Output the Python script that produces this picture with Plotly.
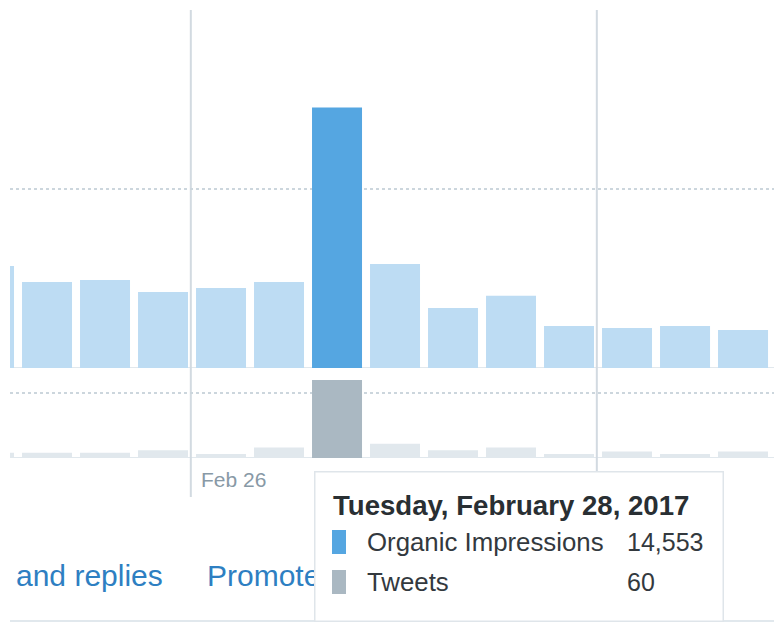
import plotly.graph_objects as go

# ---- data ----
dates = ["2017-02-22", "2017-02-23", "2017-02-24", "2017-02-25", "2017-02-26",
         "2017-02-27", "2017-02-28", "2017-03-01", "2017-03-02", "2017-03-03",
         "2017-03-04", "2017-03-05", "2017-03-06", "2017-03-07"]
impressions = [5700, 4810, 4920, 4250, 4470, 4810, 14553, 5810, 3350, 4030,
               2350, 2240, 2350, 2120]
tweets = [4, 4, 4, 6, 3, 8, 60, 11, 6, 8, 3, 5, 3, 5]
highlight_date = "2017-02-28"
week_lines = ["2017-02-25 11:30", "2017-03-04 11:30"]
axis_label = "Feb 26"
tip_title = "Tuesday, February 28, 2017"
tip_rows = ["Organic Impressions", "Tweets"]
tip_values = ["14,553", "60"]
nav_links = ["and replies", "Promoted"]

W, H = 774, 624
FONT = "Liberation Sans, Arial, Helvetica, sans-serif"


def px(x):
    return x / W


def py(y):
    return 1 - y / H


LIGHT_BLUE = "#bddcf3"
BLUE = "#55a6e1"
LIGHT_GRAY = "#e1e8ed"
GRAY = "#aab8c2"
LINE = "#d2dae1"

bar_w = 50 / 58 * 86400000

imp_colors = [BLUE if d == highlight_date else LIGHT_BLUE for d in dates]
tw_colors = [GRAY if d == highlight_date else LIGHT_GRAY for d in dates]

fig = go.Figure()
fig.add_trace(go.Bar(x=dates, y=impressions, width=bar_w, xaxis="x", yaxis="y",
                     marker=dict(color=imp_colors, line=dict(width=0))))
fig.add_trace(go.Bar(x=dates, y=tweets, width=bar_w, xaxis="x", yaxis="y2",
                     marker=dict(color=tw_colors, line=dict(width=0))))

shapes = []
# baselines
for yr in ["y", "y2"]:
    shapes.append(dict(type="line", xref="paper", yref=yr, x0=px(10), x1=1, y0=0, y1=0,
                       line=dict(color=LIGHT_GRAY, width=2), layer="below"))
# weekly lines
for wl in week_lines:
    shapes.append(dict(type="line", xref="x", yref="paper", x0=wl, x1=wl,
                       y0=py(497), y1=py(10), line=dict(color=LINE, width=2), layer="below"))
# page bottom line
shapes.append(dict(type="line", xref="paper", yref="paper", x0=px(10), x1=1,
                   y0=py(621), y1=py(621), line=dict(color=LIGHT_GRAY, width=2)))

annotations = []
annotations.append(dict(text=axis_label, xref="paper", yref="paper", x=px(200), y=py(479.5),
                        xanchor="left", yanchor="middle", showarrow=False, borderpad=0,
                        font=dict(family=FONT, size=21, color="#8899a6")))
annotations.append(dict(text=nav_links[0], xref="paper", yref="paper", x=px(15), y=py(575),
                        xanchor="left", yanchor="middle", showarrow=False, borderpad=0,
                        font=dict(family=FONT, size=30, color="#2e7fc2")))
annotations.append(dict(text=nav_links[1], xref="paper", yref="paper", x=px(206), y=py(575),
                        xanchor="left", yanchor="middle", showarrow=False, borderpad=0,
                        font=dict(family=FONT, size=30, color="#2e7fc2")))
# tooltip box
annotations.append(dict(text=" ", xref="paper", yref="paper", x=px(314), y=py(471),
                        xanchor="left", yanchor="top", showarrow=False, borderpad=0,
                        width=407, height=148, bgcolor="white", bordercolor="#dfe5ea",
                        borderwidth=1.5))
annotations.append(dict(text="<b>" + tip_title + "</b>", xref="paper", yref="paper",
                        x=px(332), y=py(505.5), xanchor="left", yanchor="middle",
                        showarrow=False, borderpad=0,
                        font=dict(family=FONT, size=27.6, color="#292f33")))
row_y = [542, 582]
row_colors = [BLUE, GRAY]
for name, val, ry, col in zip(tip_rows, tip_values, row_y, row_colors):
    annotations.append(dict(text=" ", xref="paper", yref="paper", x=px(332), y=py(ry),
                            xanchor="left", yanchor="middle", showarrow=False, borderpad=0,
                            width=14, height=24, bgcolor=col, borderwidth=0))
    annotations.append(dict(text=name, xref="paper", yref="paper", x=px(366), y=py(ry),
                            xanchor="left", yanchor="middle", showarrow=False, borderpad=0,
                            font=dict(family=FONT, size=25.8, color="#33393e")))
    annotations.append(dict(text=val, xref="paper", yref="paper", x=px(626), y=py(ry),
                            xanchor="left", yanchor="middle", showarrow=False, borderpad=0,
                            font=dict(family=FONT, size=25, color="#33393e")))

fig.update_layout(
    width=W, height=H,
    margin=dict(l=0, r=0, t=0, b=0),
    paper_bgcolor="white", plot_bgcolor="white",
    showlegend=False, hovermode=False,
    xaxis=dict(type="date", range=["2017-02-22 08:41", "2017-03-07 12:49"],
               domain=[px(10), 1], anchor="y2", showgrid=False, showticklabels=False,
               zeroline=False, showline=False, ticks=""),
    yaxis=dict(domain=[py(368), py(10)], range=[0, 20000], anchor="x",
               tickvals=[10000], showticklabels=False, showgrid=True,
               gridcolor="#ccd6dd", griddash="dot", gridwidth=1.5,
               zeroline=False, showline=False, ticks=""),
    yaxis2=dict(domain=[py(458), py(380)], range=[0, 60], anchor="x",
                tickvals=[50], showticklabels=False, showgrid=True,
                gridcolor="#ccd6dd", griddash="dot", gridwidth=1.5,
                zeroline=False, showline=False, ticks=""),
    shapes=shapes,
    annotations=annotations,
)

fig.write_html("out.html")
